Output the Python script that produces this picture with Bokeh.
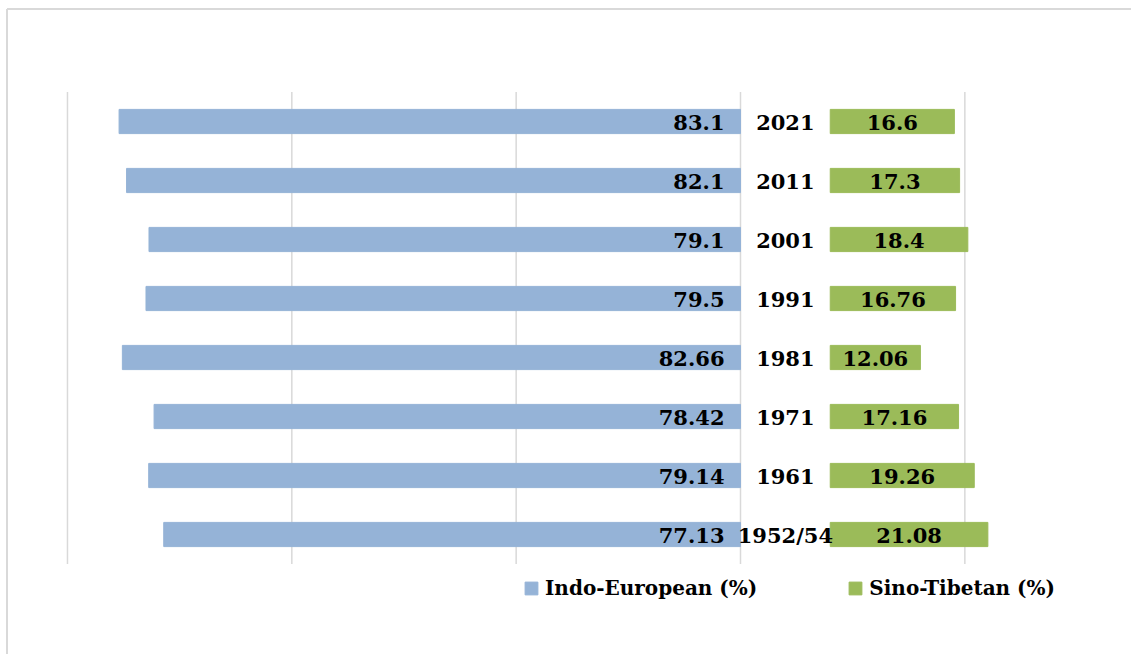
from bokeh.plotting import figure
from bokeh.models import ColumnDataSource, Range1d, Legend, LegendItem
from bokeh.core.properties import value
from bokeh.embed import file_html
from bokeh.resources import INLINE

years = ["1952/54", "1961", "1971", "1981", "1991", "2001", "2011", "2021"]
indo_european = [77.13, 79.14, 78.42, 82.66, 79.5, 79.1, 82.1, 83.1]
sino_tibetan = [21.08, 19.26, 17.16, 12.06, 16.76, 18.4, 17.3, 16.6]
grid_ticks = [-90, -60, -30, 0, 30]
GAP = 12  # invisible middle band holding the year labels

BLUE = "#95B3D7"
GREEN = "#9BBB59"
GRID = "#d9d9d9"
FONT = value("DejaVu Serif")

W, H = 1131, 654
# layout: pixels per unit and pixel anchors (figure coordinates)
XS, X0 = 7.478, 740.0      # value 0 sits at x=740px
YS, Y0 = 59.0, 534.0       # first category centred at y=534px
n = len(years)
ypos = list(range(n))

src = ColumnDataSource(dict(
    y=ypos,
    year=years,
    ie_left=[-v for v in indo_european],
    zero=[0] * n,
    st_left=[GAP] * n,
    st_right=[GAP + v for v in sino_tibetan],
    st_mid=[GAP + v / 2 for v in sino_tibetan],
    mid=[GAP / 2] * n,
    ie_lab=[str(v) for v in indo_european],
    st_lab=[str(v) for v in sino_tibetan],
))

x_range = Range1d((0 - X0) / XS, (W - X0) / XS)
y_range = Range1d((Y0 - H) / YS, Y0 / YS)

p = figure(width=W, height=H, x_range=x_range, y_range=y_range,
           output_backend="svg", toolbar_location=None,
           min_border=0, min_border_left=0, min_border_right=0,
           min_border_top=0, min_border_bottom=0)
p.outline_line_color = None
p.xaxis.visible = False
p.yaxis.visible = False
p.grid.visible = False

def px_x(px):
    return (px - X0) / XS

def px_y(py):
    return (Y0 - py) / YS

# chart-area border (left and top)
p.segment(x0=[px_x(6.5), px_x(6.5)], y0=[px_y(8.5), px_y(8.5)],
          x1=[px_x(6.5), px_x(W + 5)], y1=[px_y(H + 5), px_y(8.5)],
          line_color=GRID, line_width=2)

# vertical gridlines spanning the category band
p.segment(x0=grid_ticks, x1=grid_ticks, y0=[-0.5] * len(grid_ticks),
          y1=[n - 0.5] * len(grid_ticks), line_color=GRID, line_width=1.5)

r_ie = p.hbar(y="y", left="ie_left", right="zero", height=0.41, color=BLUE, source=src)
r_st = p.hbar(y="y", left="st_left", right="st_right", height=0.41, color=GREEN, source=src)

common = dict(text_font=FONT, text_font_style="bold", text_font_size="21px",
              text_color="black", text_baseline="middle", source=src, y_offset=1)
p.text(x="zero", y="y", text="ie_lab", text_align="right", x_offset=-16, **common)
p.text(x="mid", y="y", text="year", text_align="center", **common)
p.text(x="st_mid", y="y", text="st_lab", text_align="center", **common)

lg = Legend(items=[LegendItem(label="Indo-European (%)", renderers=[r_ie]),
                   LegendItem(label="Sino-Tibetan (%)", renderers=[r_st])])
lg.orientation = "horizontal"
lg.location = (523, 54)
lg.padding = 0
lg.margin = 0
lg.spacing = 90
lg.glyph_width = 16
lg.glyph_height = 16
lg.label_standoff = 6
lg.label_height = 24
lg.border_line_color = None
lg.background_fill_alpha = 0
lg.label_text_font = "DejaVu Serif"
lg.label_text_font_style = "bold"
lg.label_text_font_size = "20px"
lg.label_text_color = "black"
p.add_layout(lg, "center")

open("out.html", "w").write(file_html(p, INLINE))
